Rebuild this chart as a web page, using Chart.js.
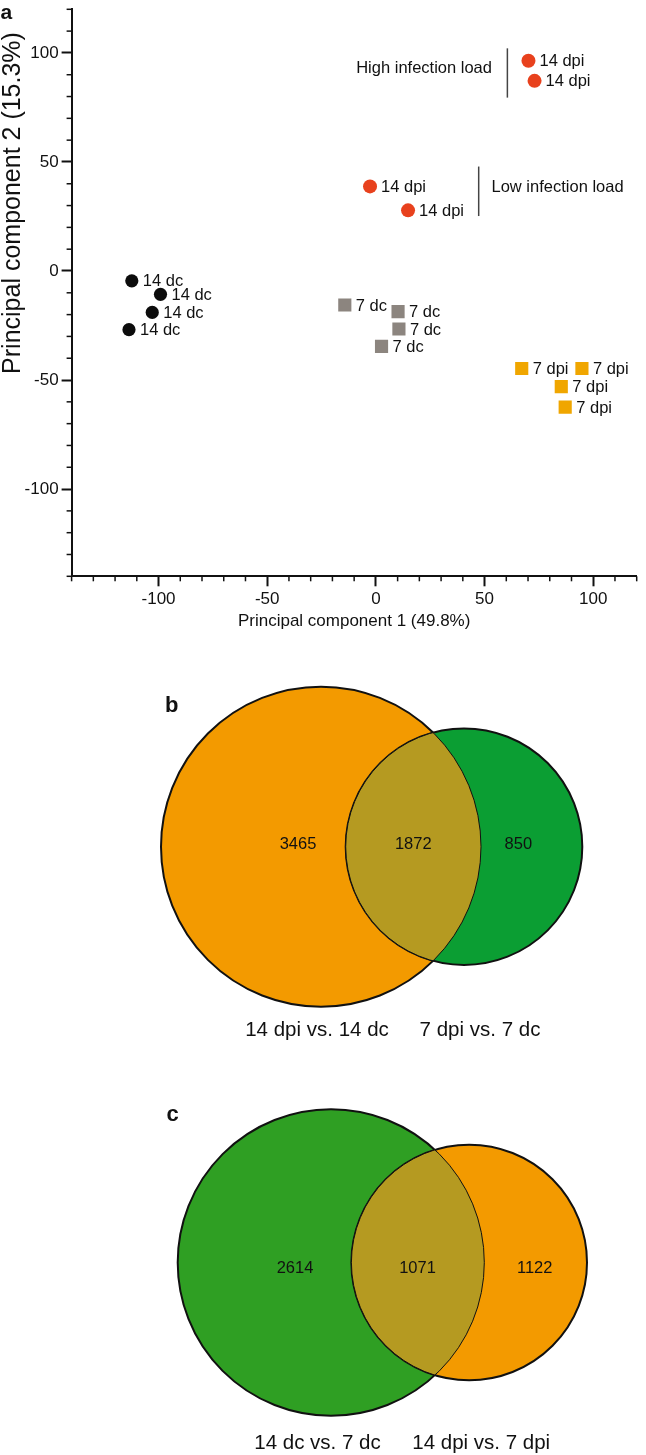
<!DOCTYPE html>
<html><head><meta charset="utf-8">
<script src="https://cdn.jsdelivr.net/npm/chart.js@4.4.0/dist/chart.umd.min.js"></script>
<style>
html,body{margin:0;padding:0;background:#fff;}
#wrap{position:relative;width:646px;height:1455px;overflow:hidden;background:#fff;}
.box{position:absolute;left:0;width:646px;}
</style></head><body>
<div id="wrap">
  <div class="box" style="top:0;height:640px"><canvas id="pca"></canvas></div>
  <div class="box" style="top:640px;height:405px"><canvas id="vennB"></canvas></div>
  <div class="box" style="top:1045px;height:410px"><canvas id="vennC"></canvas></div>
</div>
<script>
// ---------------- data ----------------
const pcXTicks = [-100, -50, 0, 50, 100];
const pcYTicks = [100, 50, 0, -50, -100];

const dc14X  = [-112.3, -99.1, -102.9, -113.6];
const dc14Y  = [-4.5, -10.7, -19.0, -26.9];
const dpi14X = [70.2, 73.0, -2.7, 14.8];
const dpi14Y = [96.4, 87.2, 38.8, 27.8];
const dc7X   = [-14.3, 10.2, 10.6, 2.6];
const dc7Y   = [-15.6, -18.6, -26.6, -34.6];
const dpi7X  = [67.1, 94.8, 85.3, 87.1];
const dpi7Y  = [-44.7, -44.7, -53.0, -62.4];
const groupNames = ['14 dc', '14 dpi', '7 dc', '7 dpi'];
const loadNotes = ['High infection load', 'Low infection load'];

const vennBSets   = ['14 dpi vs. 14 dc', '7 dpi vs. 7 dc'];
const vennBCounts = [3465, 1872, 850];
const vennCSets   = ['14 dc vs. 7 dc', '14 dpi vs. 7 dpi'];
const vennCCounts = [2614, 1071, 1122];

// ---------------- styling / layout ----------------
const INK = '#111111';
const FONT = "'Liberation Sans', Arial, Helvetica, sans-serif";
Chart.defaults.font.family = FONT;

function sText(ctx, txt, x, y, size, align, baseline, weight) {
  ctx.save();
  ctx.font = (weight || 'normal') + ' ' + size + 'px ' + FONT;
  ctx.textAlign = align; ctx.textBaseline = baseline;
  ctx.fillText(txt, x, y);
  ctx.restore();
}
function seg(ctx, x1, y1, x2, y2) { ctx.beginPath(); ctx.moveTo(x1, y1); ctx.lineTo(x2, y2); ctx.stroke(); }
const pts = (xs, ys) => xs.map((v, i) => ({x: v, y: ys[i]}));

const noteLayout = [
  {tx: 53.4, ty: 92.7, align: 'right', lx: 60.5, ly1: 79.5, ly2: 102.1},
  {tx: 53.2, ty: 38.1, align: 'left',  lx: 47.3, ly1: 25.2, ly2: 47.9}
];

const pcaDecor = {
  id: 'pcaDecor',
  afterDraw(chart) {
    const {ctx, chartArea: ca, scales: {x, y}} = chart;
    ctx.save();
    ctx.strokeStyle = INK; ctx.fillStyle = INK; ctx.lineWidth = 1.5;
    // minor ticks
    x.ticks.forEach(t => { if (!pcXTicks.includes(t.value)) { const p = x.getPixelForValue(t.value); seg(ctx, p, ca.bottom, p, ca.bottom + 5); } });
    y.ticks.forEach(t => { if (!pcYTicks.includes(t.value)) { const p = y.getPixelForValue(t.value); seg(ctx, ca.left - 5, p, ca.left, p); } });
    // tick labels
    pcXTicks.forEach(v => sText(ctx, String(v), x.getPixelForValue(v), ca.bottom + 23.5, 17, 'center', 'middle'));
    pcYTicks.forEach(v => sText(ctx, String(v), ca.left - 13, y.getPixelForValue(v), 17, 'right', 'middle'));
    // axis titles
    sText(ctx, 'Principal component 1 (49.8%)', (ca.left + ca.right) / 2, ca.bottom + 45, 17, 'center', 'middle');
    ctx.save(); ctx.translate(13, 203); ctx.rotate(-Math.PI / 2);
    sText(ctx, 'Principal component 2 (15.3%)', 0, 0, 25, 'center', 'middle');
    ctx.restore();
    // panel letter
    sText(ctx, 'a', 0.5, 13.5, 21, 'left', 'middle', 'bold');
    // point labels
    chart.data.datasets.forEach((ds, di) => {
      chart.getDatasetMeta(di).data.forEach(el => {
        sText(ctx, groupNames[di], el.x + 11, el.y + 1, 16.5, 'left', 'middle');
      });
    });
    // infection-load notes
    ctx.strokeStyle = '#444'; ctx.lineWidth = 1.5;
    noteLayout.forEach((n, i) => {
      sText(ctx, loadNotes[i], x.getPixelForValue(n.tx), y.getPixelForValue(n.ty), 16.5, n.align, 'middle');
      const lx = x.getPixelForValue(n.lx);
      seg(ctx, lx, y.getPixelForValue(n.ly1), lx, y.getPixelForValue(n.ly2));
    });
    ctx.restore();
  }
};

const majorOnly = list => c => (c.tick && list.includes(c.tick.value)) ? INK : 'rgba(0,0,0,0)';

new Chart(document.getElementById('pca'), {
  type: 'scatter',
  data: {
    datasets: [
      {data: pts(dc14X, dc14Y),   pointStyle: 'circle', pointRadius: 6.6, pointBackgroundColor: '#0c0c0c', pointBorderWidth: 0},
      {data: pts(dpi14X, dpi14Y), pointStyle: 'circle', pointRadius: 7,   pointBackgroundColor: '#e8411d', pointBorderWidth: 0},
      {data: pts(dc7X, dc7Y),     pointStyle: 'rect',   pointRadius: 9.3, pointBackgroundColor: '#8c857f', pointBorderWidth: 0},
      {data: pts(dpi7X, dpi7Y),   pointStyle: 'rect',   pointRadius: 9.3, pointBackgroundColor: '#f0a600', pointBorderWidth: 0}
    ]
  },
  options: {
    responsive: true, maintainAspectRatio: false, animation: false, devicePixelRatio: 1, events: [],
    layout: {padding: {top: 2.6, right: 0, left: 0, bottom: 0}},
    plugins: {legend: {display: false}, tooltip: {enabled: false}},
    scales: {
      x: {
        type: 'linear', min: -140, max: 120,
        ticks: {stepSize: 10, display: false, autoSkip: false},
        grid: {drawOnChartArea: false, drawTicks: true, tickLength: 10, tickWidth: 2, tickColor: majorOnly(pcXTicks)},
        border: {display: true, color: INK, width: 2},
        afterFit: s => { s.height = 63.7; }
      },
      y: {
        type: 'linear', min: -140, max: 120,
        ticks: {stepSize: 10, display: false, autoSkip: false},
        grid: {drawOnChartArea: false, drawTicks: true, tickLength: 10, tickWidth: 2, tickColor: majorOnly(pcYTicks)},
        border: {display: true, color: INK, width: 2},
        afterFit: s => { s.width = 71.6; }
      }
    }
  },
  plugins: [pcaDecor]
});

// ---------------- Venn panels ----------------
// layout in hidden-axis units (1 unit = 100 px)
const vennBLayout = {
  letter: 'b', letterPos: [1.717, 3.393],
  circles: [{cx: 3.21, cy: 1.983, r: 1.60, color: '#f39a00'}, {cx: 4.64, cy: 1.983, r: 1.183, color: '#0b9e33'}],
  lens: '#b59a21',
  countPos: [[2.98, 2.003], [4.133, 2.003], [5.183, 2.003]],
  setPos: [[3.17, 0.15], [4.80, 0.15]]
};
const vennCLayout = {
  letter: 'c', letterPos: [1.727, 3.40],
  circles: [{cx: 3.31, cy: 1.925, r: 1.533, color: '#2f9f23'}, {cx: 4.692, cy: 1.925, r: 1.178, color: '#f39a00'}],
  lens: '#b59a21',
  countPos: [[2.95, 1.87], [4.175, 1.87], [5.347, 1.87]],
  setPos: [[3.175, 0.117], [4.812, 0.117]]
};

function rPx(chart, r) { const s = chart.scales.x; return Math.abs(s.getPixelForValue(r) - s.getPixelForValue(0)); }

const vennDecor = {
  id: 'vennDecor',
  afterDatasetsDraw(chart) {
    const {ctx, scales: {x, y}} = chart;
    const cfg = chart.options.plugins.vennDecor;
    const L = cfg.layout, counts = cfg.counts, sets = cfg.sets;
    const c = L.circles.map(k => ({x: x.getPixelForValue(k.cx), y: y.getPixelForValue(k.cy), r: rPx(chart, k.r)}));
    const circ = k => { ctx.beginPath(); ctx.arc(k.x, k.y, k.r, 0, Math.PI * 2); };
    ctx.save();
    circ(c[0]); ctx.clip();
    circ(c[1]); ctx.fillStyle = L.lens; ctx.fill();
    ctx.strokeStyle = INK; ctx.lineWidth = 1; ctx.stroke();
    ctx.restore();
    ctx.save();
    circ(c[1]); ctx.clip();
    circ(c[0]); ctx.strokeStyle = INK; ctx.lineWidth = 1; ctx.stroke();
    ctx.restore();
    ctx.save(); ctx.fillStyle = INK;
    counts.forEach((n, i) => sText(ctx, String(n), x.getPixelForValue(L.countPos[i][0]), y.getPixelForValue(L.countPos[i][1]), 16.5, 'center', 'middle'));
    sets.forEach((s, i) => sText(ctx, s, x.getPixelForValue(L.setPos[i][0]), y.getPixelForValue(L.setPos[i][1]), 20.5, 'center', 'middle'));
    sText(ctx, L.letter, x.getPixelForValue(L.letterPos[0]), y.getPixelForValue(L.letterPos[1]), 22, 'center', 'middle', 'bold');
    ctx.restore();
  }
};

function makeVenn(id, sets, counts, L) {
  const el = document.getElementById(id);
  const H = el.parentNode.clientHeight;
  return new Chart(el, {
    type: 'scatter',
    data: {
      datasets: L.circles.map((k, i) => ({
        data: [{x: k.cx, y: k.cy}],
        pointStyle: 'circle',
        pointRadius: ctx => rPx(ctx.chart, k.r),
        pointHoverRadius: ctx => rPx(ctx.chart, k.r),
        pointBackgroundColor: k.color,
        pointBorderColor: INK,
        pointBorderWidth: 2,
        order: L.circles.length - i,
        clip: false
      }))
    },
    options: {
      responsive: true, maintainAspectRatio: false, animation: false, devicePixelRatio: 1, events: [],
      layout: {padding: 0},
      scales: {
        x: {type: 'linear', display: false, min: 0, max: 6.46},
        y: {type: 'linear', display: false, min: 0, max: H / 100}
      },
      plugins: {legend: {display: false}, tooltip: {enabled: false}, vennDecor: {layout: L, counts: counts, sets: sets}}
    },
    plugins: [vennDecor]
  });
}
makeVenn('vennB', vennBSets, vennBCounts, vennBLayout);
makeVenn('vennC', vennCSets, vennCCounts, vennCLayout);
</script>
</body></html>
